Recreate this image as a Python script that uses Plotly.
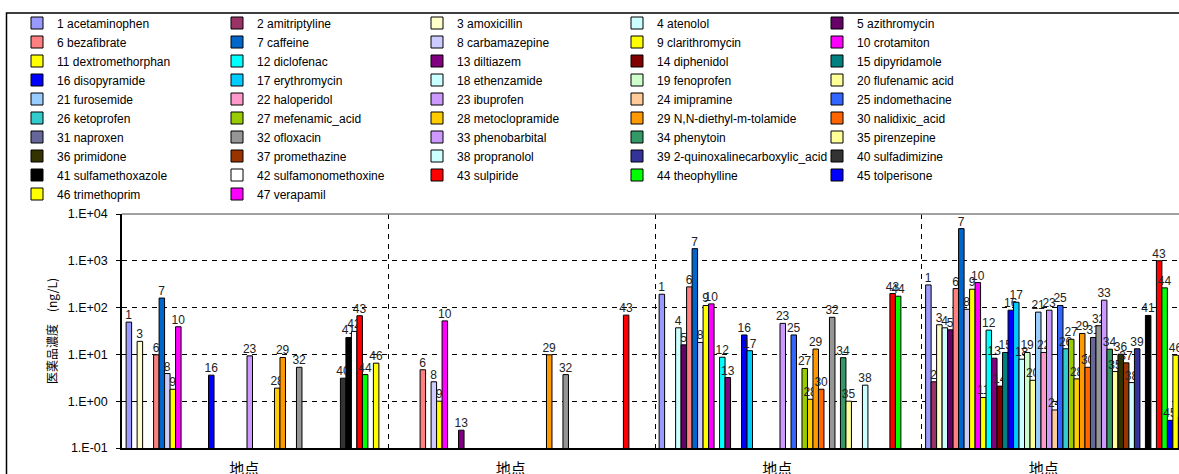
import plotly.graph_objects as go

compounds = ["acetaminophen", "amitriptyline", "amoxicillin", "atenolol", "azithromycin",
             "bezafibrate", "caffeine", "carbamazepine", "clarithromycin", "crotamiton",
             "dextromethorphan", "diclofenac", "diltiazem", "diphenidol", "dipyridamole",
             "disopyramide", "erythromycin", "ethenzamide", "fenoprofen", "flufenamic acid",
             "furosemide", "haloperidol", "ibuprofen", "imipramine", "indomethacine",
             "ketoprofen", "mefenamic_acid", "metoclopramide", "N,N-diethyl-m-tolamide", "nalidixic_acid",
             "naproxen", "ofloxacin", "phenobarbital", "phenytoin", "pirenzepine",
             "primidone", "promethazine", "propranolol", "2-quinoxalinecarboxylic_acid", "sulfadimizine",
             "sulfamethoxazole", "sulfamonomethoxine", "sulpiride", "theophylline", "tolperisone",
             "trimethoprim", "verapamil"]

colors = ["#9999FF", "#993366", "#FFFFCC", "#CCFFFF", "#660066",
          "#FF8080", "#0066CC", "#CCCCFF", "#FFFF00", "#FF00FF",
          "#FFFF00", "#00FFFF", "#800080", "#800000", "#008080",
          "#0000FF", "#00CCFF", "#CCFFFF", "#CCFFCC", "#FFFF99",
          "#99CCFF", "#FF99CC", "#CC99FF", "#FFCC99", "#3366FF",
          "#33CCCC", "#99CC00", "#FFCC00", "#FF9900", "#FF6600",
          "#666699", "#969696", "#CC99FF", "#339966", "#FFFF99",
          "#333300", "#993300", "#CCFFFF", "#333399", "#333333",
          "#000000", "#FFFFFF", "#FF0000", "#00FF00", "#0000FF",
          "#FFFF00", "#FF00FF"]

N = None
site1 = [49, N, 19, N, N, 9.8, 160, 3.9, 1.8, 39,
         N, N, N, N, N, 3.6, N, N, N, N,
         N, N, 9.3, N, N, N, N, 1.9, 8.6, N,
         N, 5.3, N, N, N, N, N, N, N, 3.1,
         23, 31, 67, 3.7, N, 6.5, N]
site2 = [N, N, N, N, N, 4.7, N, 2.6, 1.0, 52,
         N, N, 0.24, N, N, N, N, N, N, N,
         N, N, N, N, N, N, N, N, 9.8, N,
         N, 3.7, N, N, N, N, N, N, N, N,
         N, N, 69, N, N, N, N]
site3 = [193, N, N, 37, 16, 277, 1820, 18, 111, 120,
         N, 8.7, 3.2, N, N, 26, 12, N, N, N,
         N, N, 46, N, 26, N, 5.0, 1.1, 13, 1.8,
         N, 62, N, 8.5, 1.0, N, N, 2.2, N, N,
         N, N, 200, 175, N, N, N]
site4 = [305, 2.6, 43, 37, 33.5, 255, 4870, 92, 247, 343,
         1.2, 33, 8.3, 2.1, 11, 88, 130, 7.9, 11, 2.8,
         80, 11, 88, 0.65, 111, 13.2, 21, 3.0, 28, 5.3,
         23, 41, 144, 12.9, 4.3, 10.1, 6.6, 2.5, 13.2, N,
         68, N, 1000, 264, 0.39, 9.6, 0.45]

site_labels = ["地点", "地点", "地点", "地点"]
y_tickvals = [0.1, 1, 10, 100, 1000, 10000]
y_ticktext = ["1.E-01", "1.E+00", "1.E+01", "1.E+02", "1.E+03", "1.E+04"]

sites = [site1, site2, site3, site4]
x_pos = list(range(len(sites)))

W, H = 1179, 474
ML, MR, MT, MB = 122, 0, 214, 26
PW = W - ML - MR
PH = H - MT - MB

fig = go.Figure()
for i, name in enumerate(compounds):
    vals = [s[i] for s in sites]
    fig.add_trace(go.Bar(
        x=x_pos, y=vals,
        name=f"{i + 1} {name}",
        marker=dict(color=colors[i], line=dict(color="#000000", width=1)),
        text=[str(i + 1) if v is not None else "" for v in vals],
        textposition="outside",
        textangle=0,
        constraintext="none",
        textfont=dict(family="Liberation Sans, Arial", size=12, color="#222222"),
        cliponaxis=False,
        hoverinfo="skip",
    ))

def px_to_paper_x(px):
    return (px - ML) / PW

def px_to_paper_y(py):
    return (H - MB - py) / PH

fig.update_layout(
    width=W, height=H,
    margin=dict(l=ML, r=MR, t=MT, b=MB, autoexpand=False),
    paper_bgcolor="white", plot_bgcolor="white",
    barmode="group",
    bargap=1.5 / 48.5,
    bargroupgap=0,
    font=dict(family="Liberation Sans, Arial", size=12, color="#000000"),
    showlegend=True,
    legend=dict(
        orientation="h",
        entrywidth=155, entrywidthmode="pixels",
        x=px_to_paper_x(17), xanchor="left",
        y=px_to_paper_y(8.5), yanchor="top",
        font=dict(family="Liberation Sans, Arial", size=12, color="#000000"),
        bgcolor="rgba(0,0,0,0)",
        traceorder="normal",
    ),
    xaxis=dict(
        tickmode="array", tickvals=x_pos, ticktext=site_labels,
        range=[-0.5, -0.5 + PW / 266.5],
        showline=True, linecolor="#000000", linewidth=1.5,
        ticks="outside", ticklen=6, tickcolor="rgba(0,0,0,0)",
        ticklabelshift=-11,
        tickfont=dict(family="Noto Sans CJK JP", size=15, color="#000000"),
        showgrid=False, zeroline=False,
        minor=dict(tickmode="array", tickvals=[x + 0.5 for x in x_pos[:-1]],
                   showgrid=True, gridcolor="#000000", griddash="5px,5px",
                   gridwidth=1, ticks=""),
    ),
    yaxis=dict(
        type="log", range=[-1, 4],
        tickmode="array", tickvals=y_tickvals, ticktext=y_ticktext,
        showline=True, linecolor="#000000", linewidth=1.5,
        ticks="outside", ticklen=4, tickcolor="#000000",
        ticklabelstandoff=6,
        tickfont=dict(family="Liberation Sans, Arial", size=12.5, color="#000000"),
        showgrid=True, gridcolor="#000000", griddash="5px,5px", gridwidth=1,
        zeroline=False,
        title=dict(text="医薬品濃度　(ng/L)", standoff=8,
                   font=dict(family="Noto Sans CJK JP", size=12, color="#000000")),
    ),
    shapes=[
        dict(type="line", xref="paper", yref="paper", x0=0, x1=1.05, y0=1, y1=1,
             line=dict(color="#808080", width=1.5), layer="above"),
        dict(type="rect", xref="paper", yref="paper",
             x0=px_to_paper_x(6.5), x1=1.05, y0=-0.5, y1=px_to_paper_y(13),
             line=dict(color="#000000", width=1.5), fillcolor="rgba(0,0,0,0)", layer="above"),
    ],
)

fig.write_html("out.html",
               config={"displayModeBar": False},
               post_script="document.body.style.margin='0';document.body.style.overflow='hidden';")
